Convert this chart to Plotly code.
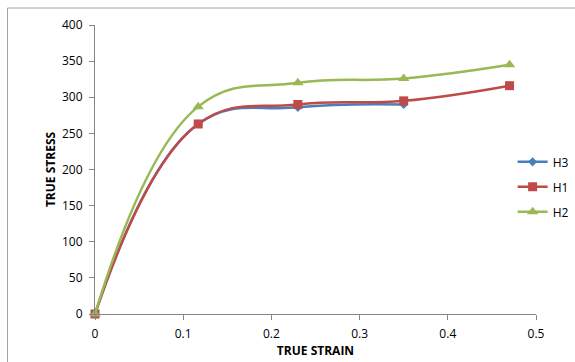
import plotly.graph_objects as go

strain_h3 = [0, 0.117, 0.23, 0.35]
stress_h3 = [0, 263, 286, 290]
strain_h1 = [0, 0.117, 0.23, 0.35, 0.47]
stress_h1 = [0, 263, 290, 295, 316]
strain_h2 = [0, 0.117, 0.23, 0.35, 0.47]
stress_h2 = [0, 287, 320, 326, 345]

x_ticks = [0, 0.1, 0.2, 0.3, 0.4, 0.5]
x_tick_labels = ["0", "0.1", "0.2", "0.3", "0.4", "0.5"]
y_ticks = [0, 50, 100, 150, 200, 250, 300, 350, 400]

fig = go.Figure()
series = [
    ("H3", strain_h3, stress_h3, "#4A7EBB", "diamond", 7),
    ("H1", strain_h1, stress_h1, "#BE4B48", "square", 9),
    ("H2", strain_h2, stress_h2, "#98B954", "triangle-up", 10),
]
for name, xs, ys, col, sym, sz in series:
    fig.add_trace(go.Scatter(
        x=xs, y=ys, name=name, mode="lines+markers", legendgroup=name,
        line=dict(color=col, width=2.5, shape="spline", smoothing=1.2),
        marker=dict(symbol=sym, size=sz, color=col),
        cliponaxis=False,
    ))

fam = "Open Sans, Liberation Sans, sans-serif"
fig.update_layout(
    width=575, height=362,
    margin=dict(l=95, r=39, t=25, b=48, autoexpand=False),
    paper_bgcolor="white", plot_bgcolor="white",
    font=dict(family=fam, size=12, color="#000000"),
    showlegend=True,
    legend=dict(x=0.947, y=0.44, xanchor="left", yanchor="middle",
                font=dict(family=fam, size=12), traceorder="grouped",
                bgcolor="rgba(0,0,0,0)", tracegroupgap=6, itemwidth=30),
    xaxis=dict(range=[0, 0.5], tickvals=x_ticks, ticktext=x_tick_labels,
               showgrid=False, zeroline=False, showline=True, linecolor="#868686",
               linewidth=1, ticks="outside", ticklen=5, tickcolor="#868686",
               ticklabelstandoff=4, automargin=False,
               title=dict(text="<b>TRUE STRAIN</b>", font=dict(size=12), standoff=4)),
    yaxis=dict(range=[0, 400], tickvals=y_ticks,
               showgrid=False, zeroline=False, showline=True, linecolor="#868686",
               linewidth=1, ticks="outside", ticklen=5, tickcolor="#868686",
               ticklabelstandoff=4, automargin=False,
               title=dict(text="<b>TRUE STRESS</b>", font=dict(size=12), standoff=3)),
    shapes=[dict(type="rect", xref="paper", yref="paper",
                 x0=(7.5 - 95) / 441, x1=(590 - 95) / 441,
                 y0=(314 - 380) / 289, y1=(314 - 8) / 289,
                 line=dict(color="#A6A6A6", width=1), fillcolor="rgba(0,0,0,0)", layer="below")],
)

fig.write_html("out.html")
